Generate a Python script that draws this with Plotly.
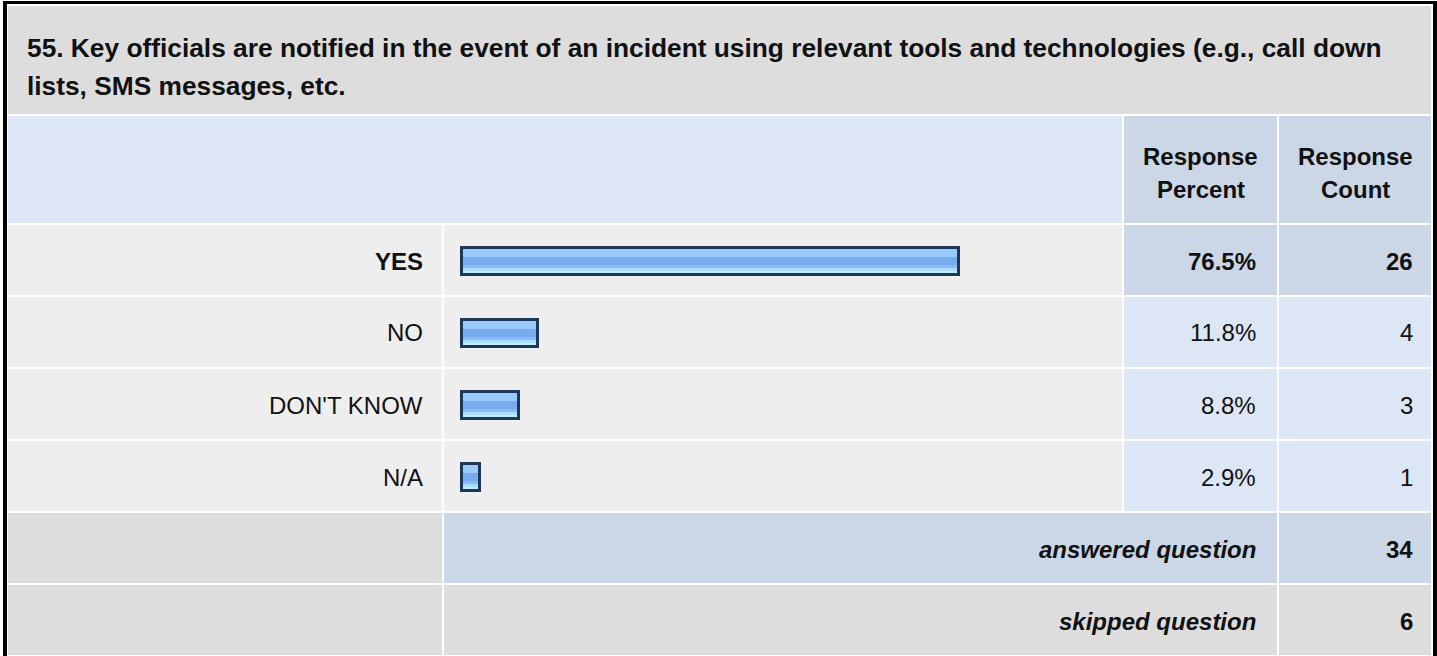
import plotly.graph_objects as go

# ---- survey results -------------------------------------------------------
title_lines = [
    "55. Key officials are notified in the event of an incident using relevant tools and technologies (e.g., call down",
    "lists, SMS messages, etc.",
]
categories = ["YES", "NO", "DON'T KNOW", "N/A"]
percents = [76.5, 11.8, 8.8, 2.9]
counts = [26, 4, 3, 1]
answered_count = 34
skipped_count = 6
header_percent = ["Response", "Percent"]
header_count = ["Response", "Count"]

# ---- page geometry (pixels) -----------------------------------------------
W, H = 1437, 656
FONT = "Liberation Sans, Arial, Helvetica, sans-serif"
TXT = "#111111"

GRAY = "#DDDDDD"
ROW_GRAY = "#EEEEEE"
LIGHT_BLUE = "#DCE6F4"
MID_BLUE = "#CBD7E6"
NAVY = "#1D3558"

COL_A = (8, 442)
COL_B = (444, 1122)
COL_C = (1124, 1277)
COL_D = (1279, 1431)
TITLE_ROW = (6, 114)
HEAD_ROW = (116, 223)
ROW0, ROW_STEP, ROW_H = 225, 72, 70

BAR_START_PX = 461.5      # pixel where 0 % sits
PX_PER_PCT = 6.5          # horizontal bar scale
BAR_CENTER0 = 261         # centre of first bar row
BAR_H_PX = 27             # bar thickness (outline centre to centre)

# gradient bands inside each bar: (colour, top fraction, bottom fraction)
BANDS = [
    ("#9ACBFA", 0.00, 0.35),
    ("#77AAEE", 0.35, 0.63),
    ("#8BBBF4", 0.63, 0.75),
    ("#A8D9FF", 0.75, 0.87),
    ("#BDF4FF", 0.87, 1.00),
]


def fx(x):
    return x / W


def fy(y):
    return 1 - y / H


def rect(x0, x1, y0, y1, color):
    return dict(type="rect", xref="paper", yref="paper", layer="below",
                x0=fx(x0), x1=fx(x1), y0=fy(y1), y1=fy(y0),
                fillcolor=color, line=dict(width=0))


def text(s, x, y, anchor="right", size=24):
    return dict(text=s, x=fx(x), y=fy(y), xref="paper", yref="paper",
                xanchor=anchor, yanchor="middle", showarrow=False,
                font=dict(family=FONT, size=size, color=TXT))


def row_span(i):
    top = ROW0 + i * ROW_STEP
    return top, top + ROW_H


shapes = [
    # outer frame
    rect(3, W, 1, H + 2, "#000000"),
    rect(7, 1433, 4, H + 2, "#FFFFFF"),
    # title and header
    rect(8, COL_D[1], *TITLE_ROW, GRAY),
    rect(COL_A[0], COL_B[1], *HEAD_ROW, LIGHT_BLUE),
    rect(*COL_C, *HEAD_ROW, MID_BLUE),
    rect(*COL_D, *HEAD_ROW, MID_BLUE),
]

annotations = [
    text("<b>%s</b>" % title_lines[0], 25, 48, "left", 26.3),
    text("<b>%s</b>" % title_lines[1], 25, 86, "left", 26.3),
    text("<b>%s</b>" % header_percent[0], sum(COL_C) / 2, 156, "center"),
    text("<b>%s</b>" % header_percent[1], sum(COL_C) / 2, 190, "center"),
    text("<b>%s</b>" % header_count[0], sum(COL_D) / 2, 156, "center"),
    text("<b>%s</b>" % header_count[1], sum(COL_D) / 2, 190, "center"),
]

top_idx = percents.index(max(percents))
for i, (cat, pct, cnt) in enumerate(zip(categories, percents, counts)):
    y0, y1 = row_span(i)
    yc = (y0 + y1) / 2 + 1
    stat_color = MID_BLUE if i == top_idx else LIGHT_BLUE
    shapes += [
        rect(*COL_A, y0, y1, ROW_GRAY),
        rect(*COL_B, y0, y1, ROW_GRAY),
        rect(*COL_C, y0, y1, stat_color),
        rect(*COL_D, y0, y1, stat_color),
    ]
    fmt = (lambda s: "<b>%s</b>" % s) if i == top_idx else (lambda s: s)
    annotations += [
        text(fmt(cat), COL_A[1] - 17, yc),
        text(fmt("%.1f%%" % pct), COL_C[1] - 19, yc),
        text(fmt(str(cnt)), COL_D[1] - 16, yc),
    ]

# summary rows
n = len(categories)
for k, (label, value, color) in enumerate([
    ("answered question", answered_count, MID_BLUE),
    ("skipped question", skipped_count, GRAY),
]):
    y0, y1 = row_span(n + k)
    yc = (y0 + y1) / 2 + 1
    shapes += [
        rect(*COL_A, y0, y1, GRAY),
        rect(COL_B[0], COL_C[1], y0, y1, color),
        rect(*COL_D, y0, y1, color),
    ]
    annotations += [
        text("<b><i>%s</i></b>" % label, COL_C[1] - 19, yc),
        text("<b>%d</b>" % value, COL_D[1] - 16, yc),
    ]

# ---- bars -----------------------------------------------------------------
bar_w = BAR_H_PX / ROW_STEP
fig = go.Figure()
for color, f0, f1 in BANDS:
    fig.add_trace(go.Bar(
        y=categories, x=percents, orientation="h",
        width=bar_w * (f1 - f0), offset=-bar_w / 2 + bar_w * f0,
        marker=dict(color=color, line=dict(width=0)),
        hoverinfo="skip", showlegend=False,
    ))
fig.add_trace(go.Bar(
    y=categories, x=percents, orientation="h",
    width=bar_w, offset=-bar_w / 2,
    marker=dict(color="rgba(0,0,0,0)", line=dict(width=3, color=NAVY)),
    customdata=counts,
    hovertemplate="%{y}: %{x:.1f}% (%{customdata})<extra></extra>",
    showlegend=False,
))

x_left = -BAR_START_PX / PX_PER_PCT
x_right = (W - BAR_START_PX) / PX_PER_PCT
y_top = -BAR_CENTER0 / ROW_STEP
y_bottom = (H - BAR_CENTER0) / ROW_STEP

fig.update_layout(
    width=W, height=H,
    margin=dict(l=0, r=0, t=0, b=0),
    paper_bgcolor="#FFFFFF",
    plot_bgcolor="rgba(0,0,0,0)",
    barmode="overlay",
    bargap=0,
    xaxis=dict(range=[x_left, x_right], visible=False, fixedrange=True),
    yaxis=dict(type="category", categoryorder="array", categoryarray=categories,
               range=[y_bottom, y_top], visible=False, fixedrange=True),
    shapes=shapes,
    annotations=annotations,
    showlegend=False,
)

fig.write_html("out.html", config={"displayModeBar": False})
